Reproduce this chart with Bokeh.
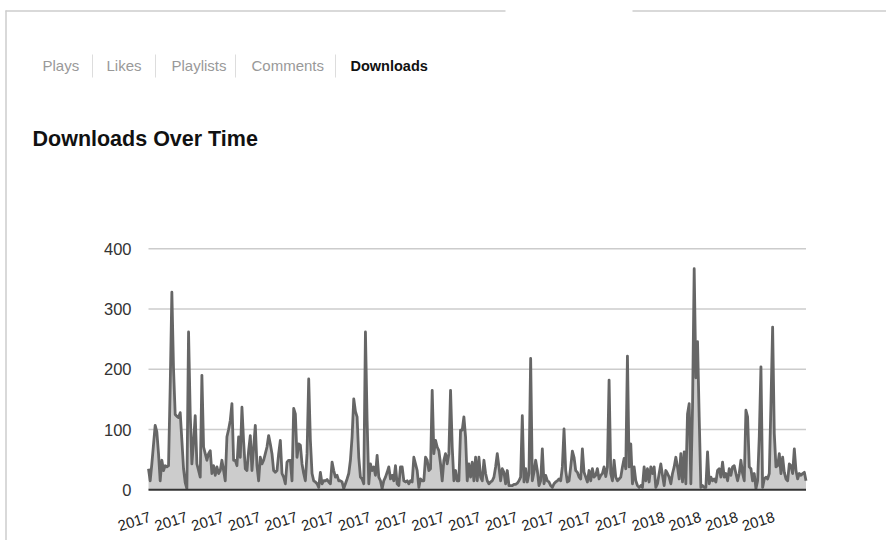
import pandas as pd
from bokeh.plotting import figure
from bokeh.models import ColumnDataSource, Range1d
from bokeh.core.properties import value
from bokeh.embed import file_html
from bokeh.resources import INLINE

# ---------------- data ----------------
downloads = [
    35, 15, 43, 75, 107, 96, 60, 15, 49, 32,
    40, 38, 40, 170, 328, 200, 125, 122, 120, 128,
    82, 35, 12, 2, 262, 126, 43, 80, 123, 43,
    32, 21, 190, 71, 60, 49, 60, 65, 27, 40,
    24, 38, 27, 32, 49, 32, 15, 88, 100, 115,
    143, 49, 49, 40, 88, 54, 137, 80, 35, 32,
    65, 90, 32, 70, 107, 40, 15, 54, 43, 49,
    60, 71, 90, 76, 60, 32, 29, 32, 60, 82,
    27, 21, 10, 46, 49, 49, 15, 135, 126, 54,
    76, 74, 43, 27, 15, 60, 184, 82, 27, 15,
    13, 10, 4, 29, 10, 15, 15, 17, 13, 10,
    46, 32, 21, 24, 15, 15, 13, 2, 10, 18,
    27, 49, 88, 151, 130, 121, 54, 21, 18, 10,
    262, 115, 10, 43, 32, 38, 24, 57, 21, 15,
    2, 15, 21, 29, 38, 18, 24, 15, 40, 10,
    7, 38, 38, 15, 13, 15, 10, 15, 13, 54,
    43, 32, 4, 18, 15, 15, 54, 49, 32, 35,
    165, 60, 82, 71, 65, 43, 15, 49, 60, 43,
    60, 165, 71, 15, 32, 15, 15, 99, 99, 121,
    88, 15, 43, 21, 46, 15, 54, 15, 54, 21,
    15, 49, 27, 15, 10, 13, 15, 21, 38, 60,
    38, 15, 35, 29, 10, 32, 7, 7, 7, 9,
    9, 11, 15, 21, 123, 13, 35, 13, 27, 218,
    15, 29, 49, 32, 7, 15, 68, 10, 24, 15,
    13, 7, 4, 10, 13, 15, 18, 15, 38, 101,
    32, 13, 15, 38, 64, 54, 32, 29, 21, 18,
    68, 29, 21, 13, 32, 15, 35, 21, 24, 35,
    18, 24, 27, 38, 22, 38, 182, 27, 15, 49,
    21, 15, 18, 21, 38, 52, 35, 222, 38, 76,
    10, 38, 15, 7, 4, 7, 4, 38, 15, 35,
    13, 38, 27, 38, 4, 10, 27, 43, 24, 7,
    32, 27, 21, 10, 27, 38, 54, 38, 18, 60,
    13, 63, 10, 126, 143, 10, 137, 367, 186, 246,
    120, 4, 7, 4, 4, 63, 10, 21, 15, 18,
    13, 32, 35, 21, 46, 21, 27, 15, 35, 24,
    38, 40, 27, 15, 27, 49, 27, 15, 132, 121,
    38, 35, 15, 27, 2, 15, 88, 204, 4, 18,
    21, 18, 27, 143, 270, 93, 38, 40, 60, 27,
    54, 29, 18, 15, 43, 40, 27, 68, 32, 18,
    27, 24, 27, 29, 15,
]
start_date = "2017-03-09"
tick_dates = [
    "2017-03-10", "2017-04-01", "2017-04-23", "2017-05-15",
    "2017-06-06", "2017-06-28", "2017-07-20", "2017-08-11",
    "2017-09-02", "2017-09-24", "2017-10-16", "2017-11-07",
    "2017-11-29", "2017-12-21", "2018-01-12", "2018-02-03",
    "2018-02-25", "2018-03-19",
]
tick_labels = ["2017"] * 14 + ["2018"] * 4
y_ticks = [0, 100, 200, 300, 400]
tabs = ["Plays", "Likes", "Playlists", "Comments", "Downloads"]
active_tab = "Downloads"
chart_title = "Downloads Over Time"

# ---------------- layout (picture pixels) ----------------
W, H = 886, 540
X_FIRST, X_LAST = 148.0, 805.5      # x of first / last day
Y_ZERO, Y_400 = 489.3, 248.3        # y of value 0 / 400
n = len(downloads)
SX = (X_LAST - X_FIRST) / (n - 1)
SY = (Y_ZERO - Y_400) / 400.0


def dx(px):
    return (px - X_FIRST) / SX


def dy(py):
    return (Y_ZERO - py) / SY


FONT = value("Liberation Sans")

dates = pd.date_range(start_date, periods=n, freq="D")
src = ColumnDataSource(dict(x=list(range(n)), y=downloads, date=dates))

p = figure(width=W, height=H, output_backend="svg", toolbar_location=None,
           x_range=Range1d(dx(0), dx(W)), y_range=Range1d(dy(H), dy(0)),
           x_axis_location=None, y_axis_location=None,
           min_border=0, outline_line_color=None)
p.title.visible = False
p.grid.visible = False
p.background_fill_color = "white"

# page frame lines
p.segment(x0=[dx(5), dx(632)], x1=[dx(505), dx(W)],
          y0=[dy(10.5)] * 2, y1=[dy(10.5)] * 2,
          line_color="#cccccc", line_width=1.5)
p.segment(x0=[dx(5.5)], x1=[dx(5.5)], y0=[dy(10)], y1=[dy(H)],
          line_color="#cccccc", line_width=1.5)

# tabs
tab_x_px = [42, 106, 171, 251, 350]
sep_x_px = [92, 155, 235, 335]
inactive = [t for t in tabs if t != active_tab]
p.text(x=[dx(tab_x_px[tabs.index(t)]) for t in inactive], y=[dy(65)] * len(inactive),
       text=inactive, text_font=FONT, text_font_size="15px", text_color="#999999",
       text_align="left", text_baseline="middle")
p.text(x=[dx(tab_x_px[tabs.index(active_tab)])], y=[dy(65)], text=[active_tab],
       text_font=FONT, text_font_size="14.5px", text_font_style="bold",
       text_color="#111111", text_align="left", text_baseline="middle")
p.segment(x0=[dx(v) for v in sep_x_px], x1=[dx(v) for v in sep_x_px],
          y0=[dy(54)] * 4, y1=[dy(77)] * 4, line_color="#dddddd", line_width=1)

# chart title
p.text(x=[dx(32)], y=[dy(138)], text=[chart_title], text_font=FONT,
       text_font_size="21.5px", text_font_style="bold", text_color="#111111",
       text_align="left", text_baseline="middle")

# gridlines
grid_vals = y_ticks[1:]
p.segment(x0=[0] * len(grid_vals), x1=[n - 1] * len(grid_vals),
          y0=grid_vals, y1=grid_vals, line_color="#cccccc", line_width=1.5)

# area + line
p.varea(x="x", y1=0, y2="y", source=src, fill_color="#cccccc")
p.line(x="x", y="y", source=src, line_color="#666666", line_width=2.8,
       line_join="round")

# baseline
p.segment(x0=[0], x1=[n - 1], y0=[0], y1=[0], line_color="#333333", line_width=2)

# y tick labels
p.text(x=[dx(131)] * len(y_ticks), y=y_ticks, text=[str(t) for t in y_ticks],
       text_font=FONT, text_font_size="16.5px", text_color="#333333",
       text_align="right", text_baseline="middle")

# x tick labels (slanted)
start = pd.Timestamp(start_date)
tick_idx = [(pd.Timestamp(d) - start).days for d in tick_dates]
p.text(x=tick_idx, y=[dy(516)] * len(tick_idx), text=tick_labels,
       text_font=FONT, text_font_size="15px", text_color="#222222",
       text_align="right", text_baseline="alphabetic", angle=0.3)

open("out.html", "w").write(file_html(p, INLINE))
